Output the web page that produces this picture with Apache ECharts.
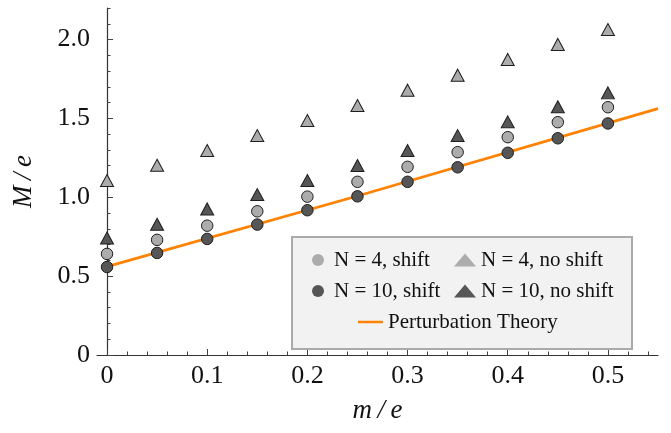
<!DOCTYPE html>
<html>
<head>
<meta charset="utf-8">
<script src="https://cdn.jsdelivr.net/npm/echarts@6/dist/echarts.min.js"></script>
<style>
  html, body { margin: 0; padding: 0; background: #fff; }
  #chart { width: 671px; height: 433px; }
</style>
</head>
<body>
<div id="chart"></div>
<script>
// m/e values
var mValues = [0, 0.05, 0.1, 0.15, 0.2, 0.25, 0.3, 0.35, 0.4, 0.45, 0.5]

// M/e
var n4Shift    = [0.641, 0.730, 0.820, 0.911, 1.004, 1.098, 1.193, 1.286, 1.381, 1.476, 1.571]
var n10Shift   = [0.558, 0.647, 0.736, 0.827, 0.918, 1.006, 1.098, 1.190, 1.282, 1.374, 1.468]
var n4NoShift  = [1.106, 1.203, 1.296, 1.391, 1.487, 1.582, 1.679, 1.774, 1.874, 1.969, 2.064]
var n10NoShift = [0.742, 0.829, 0.926, 1.017, 1.106, 1.201, 1.296, 1.391, 1.478, 1.574, 1.662]

// perturbation theory line, read at a few points
var ptX = [0, 0.25, 0.55]
var ptY = [0.560, 1.008, 1.562]

// ticks
var xMajor = [0, 0.1, 0.2, 0.3, 0.4, 0.5]
var xMinor = [0, 0.02, 0.04, 0.06, 0.08, 0.1, 0.12, 0.14, 0.16, 0.18, 0.2, 0.22, 0.24, 0.26, 0.28, 0.3,
              0.32, 0.34, 0.36, 0.38, 0.4, 0.42, 0.44, 0.46, 0.48, 0.5, 0.52, 0.54]
var yMajor = [0, 0.5, 1.0, 1.5, 2.0]
var yMinor = [0, 0.1, 0.2, 0.3, 0.4, 0.5, 0.6, 0.7, 0.8, 0.9, 1.0, 1.1, 1.2, 1.3, 1.4, 1.5,
              1.6, 1.7, 1.8, 1.9, 2.0, 2.1, 2.2]

var serif = 'Liberation Serif'
var light = '#acacac'
var dark = '#565656'
var edge = '#1e1e1e'

function pairs (xs, ys) {
  return xs.map(function (x, i) { return [x, ys[i]] })
}

function fmt (v) {
  return v === 0 ? '0' : v.toFixed(1)
}

var xBase = { type: 'value', min: -0.01, max: 0.55, position: 'bottom', splitLine: { show: false } }
var yBase = { type: 'value', min: 0, max: 2.2, position: 'left', splitLine: { show: false } }

function legendAt (name, left, top, icon, w, h) {
  return {
    data: [{ name: name, icon: icon }],
    left: left, top: top, padding: 0,
    itemWidth: w, itemHeight: h,
    itemStyle: { borderWidth: 0 },
    textStyle: { fontFamily: serif, fontSize: 21, color: '#111', lineHeight: 22 },
    z: 6
  }
}

var chart = echarts.init(document.getElementById('chart'))

chart.setOption({
  animation: false,
  grid: { left: 97, right: 13, top: 8, bottom: 78 },
  xAxis: [
    Object.assign({}, xBase, {
      name: 'm\u2009/\u2009e',
      nameLocation: 'middle',
      nameGap: 42,
      nameTextStyle: { fontFamily: serif, fontStyle: 'italic', fontSize: 27, color: '#111' },
      axisLine: { show: true, lineStyle: { color: '#333', width: 1.2 } },
      axisTick: { show: true, inside: true, length: 6, customValues: xMajor, lineStyle: { color: '#444' } },
      axisLabel: { customValues: xMajor, formatter: fmt, margin: 8, fontFamily: serif, fontSize: 26, color: '#111' }
    }),
    Object.assign({}, xBase, {
      axisLine: { show: false },
      axisTick: { show: true, inside: true, length: 3.5, customValues: xMinor, lineStyle: { color: '#444' } },
      axisLabel: { show: false }
    })
  ],
  yAxis: [
    Object.assign({}, yBase, {
      name: 'M\u2009/\u2009e',
      nameLocation: 'middle',
      nameGap: 60,
      nameTextStyle: { fontFamily: serif, fontStyle: 'italic', fontSize: 27, color: '#111' },
      axisLine: { show: true, lineStyle: { color: '#333', width: 1.2 } },
      axisTick: { show: true, inside: true, length: 6, customValues: yMajor, lineStyle: { color: '#444' } },
      axisLabel: { customValues: yMajor, formatter: fmt, margin: 7, fontFamily: serif, fontSize: 26, color: '#111' }
    }),
    Object.assign({}, yBase, {
      axisLine: { show: false },
      axisTick: { show: true, inside: true, length: 3.5, customValues: yMinor, lineStyle: { color: '#444' } },
      axisLabel: { show: false }
    })
  ],
  graphic: [{
    type: 'rect',
    shape: { x: 292, y: 237, width: 340, height: 112 },
    style: { fill: '#f2f2f2', stroke: '#aaaaaa', lineWidth: 2 },
    z: 3
  }],
  legend: [
    legendAt('N = 4, shift', 312, 249, 'circle', 22, 12),
    legendAt('N = 4, no shift', 454, 249, 'triangle', 22, 13),
    legendAt('N = 10, shift', 312, 280, 'circle', 22, 12),
    legendAt('N = 10, no shift', 454, 280, 'triangle', 22, 13),
    legendAt('Perturbation Theory', 358, 311, 'rect', 25, 2.5)
  ],
  series: [
    {
      name: 'Perturbation Theory', type: 'line',
      data: pairs(ptX, ptY), symbol: 'none',
      lineStyle: { color: '#ff8200', width: 2.8 },
      itemStyle: { color: '#ff8200' },
      z: 2
    },
    {
      name: 'N = 4, no shift', type: 'scatter', data: pairs(mValues, n4NoShift),
      symbol: 'triangle', symbolSize: [13, 12],
      itemStyle: { color: light, borderColor: edge, borderWidth: 1, opacity: 1 }, z: 3
    },
    {
      name: 'N = 10, no shift', type: 'scatter', data: pairs(mValues, n10NoShift),
      symbol: 'triangle', symbolSize: [13, 12],
      itemStyle: { color: dark, borderColor: edge, borderWidth: 1, opacity: 1 }, z: 3
    },
    {
      name: 'N = 4, shift', type: 'scatter', data: pairs(mValues, n4Shift),
      symbol: 'circle', symbolSize: 11.5,
      itemStyle: { color: light, borderColor: edge, borderWidth: 1, opacity: 1 }, z: 3
    },
    {
      name: 'N = 10, shift', type: 'scatter', data: pairs(mValues, n10Shift),
      symbol: 'circle', symbolSize: 11.5,
      itemStyle: { color: dark, borderColor: edge, borderWidth: 1, opacity: 1 }, z: 3
    }
  ]
})
</script>
</body>
</html>
